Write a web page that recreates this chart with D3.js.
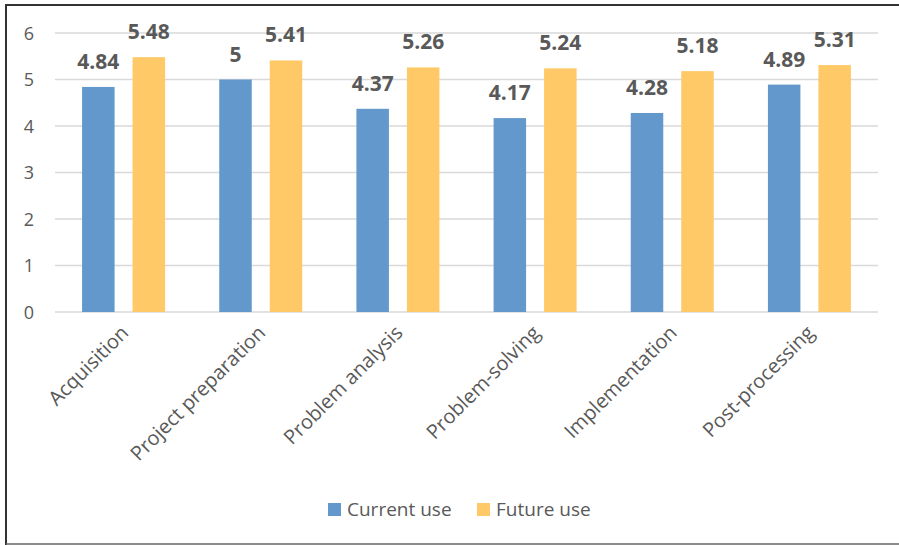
<!DOCTYPE html>
<html><head><meta charset="utf-8">
<script src="https://cdn.jsdelivr.net/npm/d3@7"></script>
<style>body{margin:0;background:#fff}svg{display:block;font-family:"Open Sans","Noto Sans","DejaVu Sans",sans-serif}</style>
</head><body><svg id="c" width="899" height="545"></svg>
<script>
const categories = ["Acquisition","Project preparation","Problem analysis","Problem-solving","Implementation","Post-processing"];
const currentUse = [4.84,5,4.37,4.17,4.28,4.89];
const futureUse = [5.48,5.41,5.26,5.24,5.18,5.31];
const seriesNames = ["Current use","Future use"];
const seriesColors = ["#6298CB","#FEC966"];
const yTicks = [0,1,2,3,4,5,6];
const FONT = '"Open Sans","Noto Sans","DejaVu Sans",sans-serif';

const svg = d3.select("#c");
// frame
svg.append("line").attr("x1",6).attr("x2",899).attr("y1",5).attr("y2",5).attr("stroke","#333").attr("stroke-width",2);
svg.append("line").attr("x1",6).attr("x2",6).attr("y1",4).attr("y2",545).attr("stroke","#333").attr("stroke-width",2);
svg.append("line").attr("x1",6).attr("x2",899).attr("y1",544).attr("y2",544).attr("stroke","#666").attr("stroke-width",1.5);

const x0 = d3.scaleBand().domain(categories).range([55,878]).paddingInner(0).paddingOuter(0);
const y = d3.scaleLinear().domain([0,6]).range([312,33]);

// gridlines
svg.append("g").selectAll("line").data(yTicks).join("line")
  .attr("x1",55).attr("x2",878).attr("y1",d=>y(d)).attr("y2",d=>y(d))
  .attr("stroke","#d9d9d9").attr("stroke-width",1.5);

// y axis labels
const yAxis = d3.axisLeft(y).tickValues(yTicks).tickSize(0).tickPadding(0).tickFormat(d3.format("d"));
const gy = svg.append("g").attr("transform","translate(34,0)").call(yAxis).attr("font-family",FONT);
gy.select(".domain").remove();
gy.selectAll("text").attr("font-size",18).attr("fill","#595959").attr("dy","0.35em");

const barW = 32.5, gap = 18;
const series = [currentUse, futureUse];
series.forEach((vals,si)=>{
  const off = si===0 ? -(gap/2+barW) : gap/2;
  const g = svg.append("g");
  g.selectAll("rect").data(categories).join("rect")
    .attr("x",(c)=>x0(c)+x0.bandwidth()/2+off)
    .attr("width",barW)
    .attr("y",(c,i)=>y(vals[i]))
    .attr("height",(c,i)=>y(0)-y(vals[i]))
    .attr("fill",seriesColors[si]);
  g.selectAll("text").data(categories).join("text")
    .attr("x",(c)=>x0(c)+x0.bandwidth()/2+off+barW/2)
    .attr("y",(c,i)=>y(vals[i])-18)
    .attr("text-anchor","middle")
    .attr("font-size",21).attr("font-weight","bold").attr("fill","#595959")
    .text((c,i)=>vals[i]);
});

// x axis category labels
const xAxis = d3.axisBottom(x0).tickSize(0).tickPadding(0);
const gx = svg.append("g").attr("transform","translate(0,312)").call(xAxis).attr("font-family",FONT);
gx.select(".domain").remove();
gx.selectAll("text")
  .attr("font-size",20).attr("fill","#595959")
  .attr("text-anchor","end").attr("dy",0)
  .attr("transform","translate(6,22) rotate(-45)");

// legend
const leg = svg.append("g");
const legX = [328,477];
seriesNames.forEach((n,i)=>{
  leg.append("rect").attr("x",legX[i]).attr("y",503).attr("width",13).attr("height",13).attr("fill",seriesColors[i]);
  leg.append("text").attr("x",legX[i]+19).attr("y",516).attr("font-size",19).attr("fill","#595959").text(n);
});
</script></body></html>
